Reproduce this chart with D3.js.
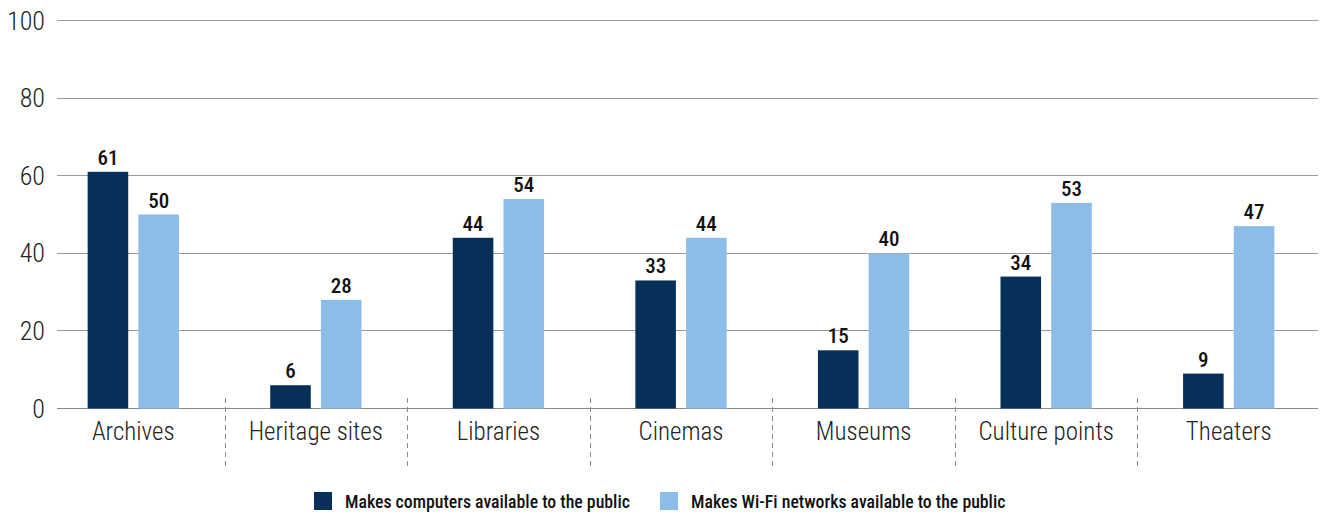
<!DOCTYPE html><html><head><script src="https://cdn.jsdelivr.net/npm/d3@7"></script>
<style>body{margin:0;background:#fff}text{font-family:"Roboto Condensed","Roboto",sans-serif;font-stretch:condensed}</style></head><body>
<svg id="s" width="1328" height="518"></svg>
<script>
const categories=["Archives","Heritage sites","Libraries","Cinemas","Museums","Culture points","Theaters"];
const seriesNames=["Makes computers available to the public","Makes Wi-Fi networks available to the public"];
const computers=[61,6,44,33,15,34,9];
const wifi=[50,28,54,44,40,53,47];
const yTicks=[0,20,40,60,80,100];
const colors=["#06305a","#8cbde8"];

const svg=d3.select("#s");
const y=d3.scaleLinear().domain([0,100]).range([408.5,20.5]);
const x0=d3.scaleBand().domain(categories).range([42,1320]).paddingInner(0.5).paddingOuter(0.25);
const x1=d3.scaleBand().domain([0,1]).range([0,x0.bandwidth()]).paddingInner(0.2);
const gridL=57,gridR=1318;

// gridlines
svg.append("g").selectAll("line").data(yTicks).join("line")
 .attr("x1",gridL).attr("x2",gridR).attr("y1",d=>Math.floor(y(d))+0.5).attr("y2",d=>Math.floor(y(d))+0.5)
 .attr("stroke",d=>d===0?"#8a8a8a":"#9a9a9a").attr("stroke-width",1);
svg.append("g").selectAll("text").data(yTicks).join("text")
 .attr("x",45).attr("y",d=>y(d)).attr("text-anchor","end").attr("dominant-baseline","central")
 .style("font-size","26px").style("font-weight",300).attr("fill","#222").text(d=>d);

// separators
const step=x0.step();
svg.append("g").selectAll("line").data(categories.slice(1)).join("line")
 .attr("x1",d=>Math.round(x0(d)-step*0.25)+0.5).attr("x2",d=>Math.round(x0(d)-step*0.25)+0.5)
 .attr("y1",398).attr("y2",470).attr("stroke","#8a8a8a").attr("stroke-dasharray","5,4");

// bars
const data=categories.map((c,i)=>({c,vals:[computers[i],wifi[i]]}));
const g=svg.append("g").selectAll("g").data(data).join("g").attr("transform",d=>`translate(${x0(d.c)},0)`);
g.selectAll("rect").data(d=>d.vals).join("rect")
 .attr("x",(d,i)=>x1(i)).attr("width",x1.bandwidth())
 .attr("y",d=>y(d)).attr("height",d=>y(0)-y(d)).attr("fill",(d,i)=>colors[i]);
g.selectAll("text").data(d=>d.vals).join("text")
 .attr("x",(d,i)=>x1(i)+x1.bandwidth()/2).attr("y",d=>y(d)-7).attr("text-anchor","middle")
 .style("font-size","21px").style("font-weight",500).attr("fill","#111").text(d=>d);

// category labels
svg.append("g").selectAll("text").data(categories).join("text")
 .attr("x",d=>x0(d)+x0.bandwidth()/2).attr("y",440).attr("text-anchor","middle")
 .style("font-size","25px").style("font-weight",300).attr("fill","#222").text(d=>d);

// legend
const lx=[314,660];
const lg=svg.append("g").selectAll("g").data(seriesNames).join("g").attr("transform",(d,i)=>`translate(${lx[i]},492)`);
lg.append("rect").attr("width",18).attr("height",18).attr("fill",(d,i)=>colors[i]);
lg.append("text").attr("x",31).attr("y",9).attr("dominant-baseline","central")
 .style("font-size","17.8px").style("font-weight",500).attr("fill","#111").text(d=>d);
</script></body></html>
